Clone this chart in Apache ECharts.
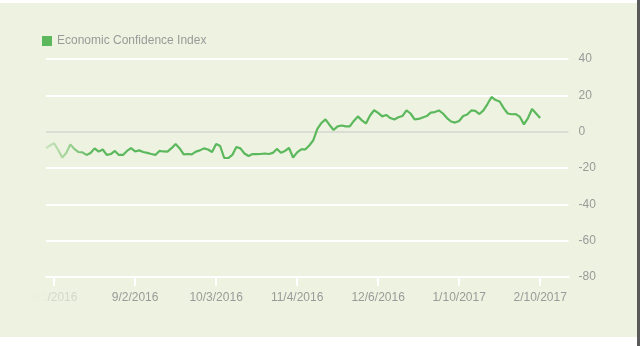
<!DOCTYPE html>
<html>
<head>
<meta charset="utf-8">
<script src="https://cdn.jsdelivr.net/npm/echarts@6/dist/echarts.min.js"></script>
<style>
html,body{margin:0;padding:0;background:#ffffff;}
#wrap{position:relative;width:640px;height:346px;overflow:hidden;}
#bg{position:absolute;left:0;top:3px;width:637px;height:334px;background:#edf3e0;}
#edge{position:absolute;right:0;top:0;width:3px;height:346px;background:#5a5a5a;}
#chart{position:absolute;left:0;top:0;width:640px;height:346px;}
</style>
</head>
<body>
<div id="wrap"><div id="bg"></div><div id="edge"></div><div id="chart"></div></div>
<script>
// Economic Confidence Index values (one per data point)
var indexValues = [
  -9.0, -7.6, -6.4, -10.1, -14.2, -11.7, -7.0, -9.5, -11.2, -11.4,
  -12.8, -11.7, -9.2, -11.0, -9.8, -12.8, -12.3, -10.6, -12.8, -12.8,
  -10.6, -9.1, -10.9, -10.3, -11.2, -11.7, -12.3, -12.8, -10.6, -10.9,
  -11.0, -9.1, -6.8, -9.2, -12.5, -12.3, -12.5, -11.0, -10.3, -9.2,
  -9.8, -11.2, -6.8, -7.9, -14.5, -14.5, -12.8, -8.4, -9.2, -12.0,
  -13.4, -12.3, -12.4, -12.3, -12.0, -12.3, -11.7, -9.5, -11.6, -10.6,
  -9.0, -14.2, -11.4, -9.7, -9.8, -7.6, -4.7, 1.5, 4.8, 6.8,
  3.7, 0.9, 2.9, 3.4, 2.9, 2.9, 5.9, 8.4, 6.2, 4.5,
  8.9, 11.8, 10.3, 8.4, 9.2, 7.5, 6.7, 7.9, 8.6, 11.7,
  10.0, 6.8, 7.0, 7.8, 8.6, 10.5, 10.8, 11.7, 10.0, 7.5,
  5.6, 5.0, 5.9, 8.6, 9.5, 11.7, 11.4, 9.7, 11.7, 15.2,
  19.1, 17.4, 16.6, 13.0, 10.0, 9.6, 9.7, 8.1, 4.0, 7.5,
  12.5, 10.0, 7.5
];
var tickLabels = ['8/1/2016', '9/2/2016', '10/3/2016', '11/4/2016', '12/6/2016', '1/10/2017', '2/10/2017'];
var tickIndices = [2, 22, 42, 62, 82, 102, 122];
var categoryCount = 130;
var yTicks = [-80, -60, -40, -20, 0, 20, 40];

var categories = [];
for (var i = 0; i < categoryCount; i++) categories.push('');
tickIndices.forEach(function (idx, k) { categories[idx] = tickLabels[k]; });
var tickSet = {};
tickIndices.forEach(function (idx) { tickSet[idx] = true; });

var chart = echarts.init(document.getElementById('chart'), null, {renderer: 'canvas'});
var green = '#5cb85c';
chart.setOption({
  backgroundColor: 'transparent',
  animation: false,
  textStyle: {fontFamily: 'Liberation Sans, Arial, sans-serif'},
  legend: {
    left: 37, top: 30,
    icon: 'rect', itemWidth: 10, itemHeight: 10,
    textStyle: {color: '#9a9a9a', fontSize: 12, fontFamily: 'Liberation Sans, Arial, sans-serif'},
    data: ['Economic Confidence Index']
  },
  grid: {left: 46, right: 71.5, top: 59, bottom: 69, containLabel: false},
  xAxis: {
    type: 'category',
    boundaryGap: false,
    data: categories,
    axisLine: {show: true, onZero: false, lineStyle: {color: '#ffffff', width: 2}},
    axisTick: {show: true, length: 9, lineStyle: {color: '#ffffff', width: 2},
      interval: function (idx) { return !!tickSet[idx]; }},
    axisLabel: {
      interval: function (idx) { return !!tickSet[idx]; },
      margin: 15,
      color: '#9a9a9a', fontSize: 12,
      formatter: function (val, idx) {
        if (idx === tickIndices[0]) {
          var p = val.indexOf('/', 2);
          return '{a|' + val.slice(0, p) + '}{b|' + val.slice(p) + '}';
        }
        return val;
      },
      rich: {
        a: {color: '#eaf0dd', fontSize: 12},
        b: {color: '#d3d8cb', fontSize: 12}
      }
    },
    splitLine: {show: false}
  },
  yAxis: {
    type: 'value',
    position: 'right',
    min: yTicks[0], max: yTicks[yTicks.length - 1], interval: 20,
    axisLine: {show: false},
    axisTick: {show: false},
    axisLabel: {color: '#9a9a9a', fontSize: 12, margin: 10, align: 'left'},
    splitLine: {show: true, lineStyle: {color: '#ffffff', width: 2}}
  },
  series: [{
    name: 'Economic Confidence Index',
    type: 'line',
    data: indexValues,
    showSymbol: false,
    symbol: 'none',
    itemStyle: {color: green},
    lineStyle: {
      width: 2.2,
      color: {
        type: 'linear', x: 42, y: 0, x2: 92, y2: 0, global: true,
        colorStops: [{offset: 0, color: '#d2e6c6'}, {offset: 0.5, color: '#a3d398'}, {offset: 1, color: green}]
      }
    },
    markLine: {
      silent: true, symbol: 'none', label: {show: false},
      lineStyle: {color: '#d9ddd4', width: 2, type: 'solid'},
      z: 1,
      data: [{yAxis: 0}]
    },
    z: 3
  }]
});
</script>
</body>
</html>
